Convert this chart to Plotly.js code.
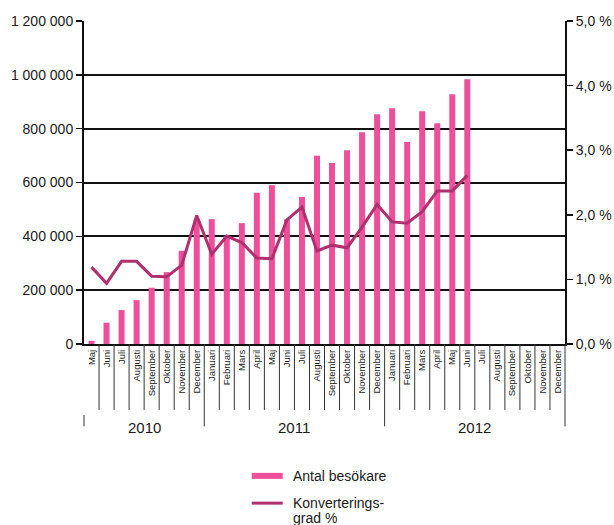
<!DOCTYPE html>
<html>
<head>
<meta charset="utf-8">
<script src="https://cdn.plot.ly/plotly-3.0.1.min.js"></script>
<style>html,body{margin:0;padding:0;background:#fff;}#chart{width:614px;height:525px;}</style>
</head>
<body>
<div id="chart"></div>
<script>
// ---- data ----
var months = ['Maj','Juni','Juli','Augusti','September','Oktober','November','December',
  'Januari','Februari','Mars','April','Maj','Juni','Juli','Augusti','September','Oktober','November','December',
  'Januari','Februari','Mars','April','Maj','Juni','Juli','Augusti','September','Oktober','November','December'];
var years = ['2010','2011','2012'];
var monthsPerYear = [8, 12, 12];
var visitors = [12000, 79000, 126000, 163000, 209000, 267000, 346000, 465000,
  464000, 402000, 449000, 562000, 590000, 463000, 546000, 699000, 672000, 720000, 787000, 854000,
  876000, 750000, 865000, 820000, 928000, 984000];
var conversion = [1.19, 0.94, 1.28, 1.28, 1.05, 1.04, 1.22, 1.99,
  1.39, 1.67, 1.57, 1.33, 1.32, 1.92, 2.12, 1.44, 1.53, 1.49, 1.81, 2.16,
  1.89, 1.87, 2.05, 2.37, 2.37, 2.61];
var leftTickVals = [0, 200000, 400000, 600000, 800000, 1000000, 1200000];
var leftTickText = ['0', '200 000', '400 000', '600 000', '800 000', '1 000 000', '1 200 000'];
var rightTickVals = [0, 1, 2, 3, 4, 5];
var rightTickText = ['0,0 %', '1,0 %', '2,0 %', '3,0 %', '4,0 %', '5,0 %'];
var seriesNames = ['Antal besökare', 'Konverteringsgrad %'];
var legendLines = [['Antal besökare'], ['Konverterings-', 'grad %']];

// ---- styles ----
var PINK = '#ee4f9b';
var PLUM = '#b0306f';
var FONT = 'Liberation Sans, Arial, Helvetica, sans-serif';
var TXT = '#1a1a1a';

var idx = months.map(function (_, i) { return i; });
var nCat = months.length;

var traces = [
  {
    type: 'bar', name: seriesNames[0], x: idx.slice(0, visitors.length), y: visitors,
    marker: { color: PINK }, width: 0.4, hoverinfo: 'y'
  },
  {
    type: 'scatter', name: seriesNames[1], mode: 'lines', x: idx.slice(0, conversion.length), y: conversion,
    yaxis: 'y2', line: { color: PLUM, width: 3 }
  }
];

// separators below the axis
var shapes = [];
var sepBottom = -0.204, yearBottom = -0.255;
var acc = 0;
var yearEdges = [0];
monthsPerYear.forEach(function (n) { acc += n; yearEdges.push(acc); });
for (var k = 0; k <= nCat; k++) {
  var isYear = yearEdges.indexOf(k) >= 0;
  var y0 = 0, y1 = isYear ? yearBottom : sepBottom;
  if (k === 0) { y0 = -0.22; }
  shapes.push({ type: 'line', xref: 'paper', yref: 'paper', x0: k / nCat, x1: k / nCat,
    y0: y0, y1: y1, line: { color: '#333', width: 1 } });
}

var annotations = [];
for (var j = 0; j < years.length; j++) {
  var mid = (yearEdges[j] + yearEdges[j + 1]) / 2 / nCat;
  annotations.push({ xref: 'paper', yref: 'paper', x: mid, y: -0.258, text: years[j],
    showarrow: false, xanchor: 'center', yanchor: 'middle', font: { size: 15, color: TXT, family: FONT } });
}

// custom legend (swatches + text)
var legX0 = 0.3487, legX1 = 0.4131, legTextX = 0.4297;
var legY = [-0.4083, -0.4927];
var lineStep = 0.0464;
shapes.push({ type: 'line', xref: 'paper', yref: 'paper', x0: legX0, x1: legX1, y0: legY[0], y1: legY[0],
  line: { color: traces[0].marker.color, width: 6 } });
shapes.push({ type: 'line', xref: 'paper', yref: 'paper', x0: legX0, x1: legX1, y0: legY[1], y1: legY[1],
  line: { color: traces[1].line.color, width: 3 } });
legendLines.forEach(function (lines, i) {
  lines.forEach(function (t, m) {
    annotations.push({ xref: 'paper', yref: 'paper', x: legTextX, y: legY[i] - m * lineStep, text: t,
      showarrow: false, xanchor: 'left', yanchor: 'middle', font: { size: 14, color: TXT, family: FONT } });
  });
});

var layout = {
  width: 614, height: 525,
  margin: { l: 84, r: 49, t: 21, b: 181 },
  paper_bgcolor: '#fff', plot_bgcolor: '#fff',
  font: { family: FONT, color: TXT, size: 14 },
  showlegend: false,
  xaxis: {
    range: [-0.5, nCat - 0.5], tickmode: 'array', tickvals: idx, ticktext: months,
    tickangle: -90, tickfont: { size: 9.5, color: TXT, family: FONT },
    showgrid: false, zeroline: false, showline: true, linecolor: '#111', linewidth: 2,
    ticks: '', fixedrange: true, automargin: false
  },
  yaxis: {
    range: [0, 1200000], tickmode: 'array', tickvals: leftTickVals, ticktext: leftTickText,
    showgrid: true, gridcolor: '#111', gridwidth: 2, zeroline: false,
    showline: true, linecolor: '#111', linewidth: 2,
    ticks: 'outside', ticklen: 6, tickcolor: '#111', tickwidth: 1.5,
    tickfont: { size: 14, color: TXT, family: FONT }, fixedrange: true, automargin: false
  },
  yaxis2: {
    range: [0, 5], overlaying: 'y', side: 'right', tickmode: 'array',
    tickvals: rightTickVals, ticktext: rightTickText, showgrid: false, zeroline: false,
    showline: true, linecolor: '#111', linewidth: 2,
    ticks: 'outside', ticklen: 6, tickcolor: '#111', tickwidth: 1.5,
    tickfont: { size: 14, color: TXT, family: FONT }, fixedrange: true, automargin: false
  },
  shapes: shapes,
  annotations: annotations
};

Plotly.newPlot('chart', traces, layout, { displayModeBar: false, staticPlot: true });
</script>
</body>
</html>
